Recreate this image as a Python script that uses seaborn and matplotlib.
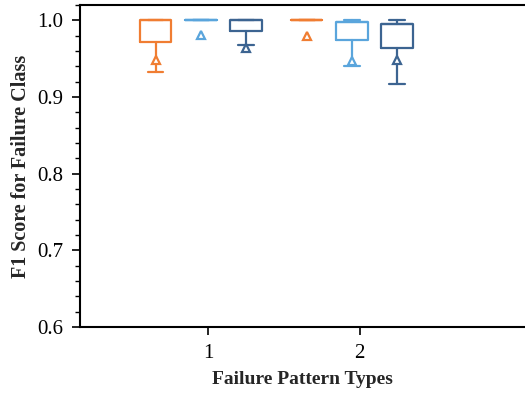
import matplotlib
matplotlib.use("Agg")
import matplotlib.pyplot as plt
import seaborn as sns
from matplotlib.ticker import MultipleLocator

# Stats (one entry per group: pattern 1, pattern 2)
patterns = [1, 2]
models = ["A", "B", "C"]
colors = ["#F07D32", "#5AA5DC", "#3C6491"]

whislo = {"A": [0.933, 1.0], "B": [1.0, 0.9405], "C": [0.968, 0.917]}
q1 = {"A": [0.9715, 1.0], "B": [1.0, 0.975], "C": [0.9867, 0.9645]}
med = {"A": [1.0, 1.0], "B": [1.0, 0.998], "C": [1.0, 0.9955]}
q3 = {"A": [1.0, 1.0], "B": [1.0, 0.998], "C": [1.0, 0.9955]}
whishi = {"A": [1.0, 1.0], "B": [1.0, 1.0], "C": [1.0, 1.0]}
means = {"A": [0.948, 0.980], "B": [0.981, 0.9475], "C": [0.9635, 0.948]}

offsets = [-0.35, -0.05, 0.25]

sns.set_theme(style="ticks")
plt.rcParams["font.family"] = ["Liberation Serif", "DejaVu Serif"]

fig = plt.figure(figsize=(5.25, 3.94), dpi=100)
ax = fig.add_axes([0.152, 0.170, 0.848, 0.817])

for m, c, off in zip(models, colors, offsets):
    stats = []
    for i, p in enumerate(patterns):
        stats.append({
            "whislo": whislo[m][i], "q1": q1[m][i], "med": med[m][i],
            "q3": q3[m][i], "whishi": whishi[m][i], "mean": means[m][i],
            "fliers": [],
        })
    ax.bxp(stats, positions=[p + off for p in patterns], widths=0.21,
           showmeans=True, showfliers=False, patch_artist=False,
           boxprops=dict(color=c, linewidth=1.6),
           whiskerprops=dict(color=c, linewidth=1.6),
           capprops=dict(color=c, linewidth=1.6),
           medianprops=dict(color=c, linewidth=1.6),
           meanprops=dict(marker="^", markerfacecolor="white",
                          markeredgecolor=c, markeredgewidth=1.6,
                          markersize=6))

ax.set_xlim(0.149, 3.095)
ax.set_ylim(0.6, 1.02)
ax.set_xticks(patterns)
ax.set_xticklabels([str(p) for p in patterns])
ax.yaxis.set_major_locator(MultipleLocator(0.1))
ax.yaxis.set_minor_locator(MultipleLocator(0.02))
ax.tick_params(axis="both", which="major", labelsize=15, length=6, width=1.2,
               pad=6, color="black", labelcolor="black")
ax.tick_params(axis="y", which="minor", length=3.5, width=1.0, color="black")
ax.spines["right"].set_visible(False)
for s in ["left", "bottom", "top"]:
    ax.spines[s].set_linewidth(1.5)
    ax.spines[s].set_color("black")

ax.set_xlabel("Failure Pattern Types", fontsize=14, fontweight="bold",
              labelpad=6)
ax.set_ylabel("F1 Score for Failure Class", fontsize=14.5, fontweight="bold",
              labelpad=4)

fig.savefig("out.png", dpi=100)
